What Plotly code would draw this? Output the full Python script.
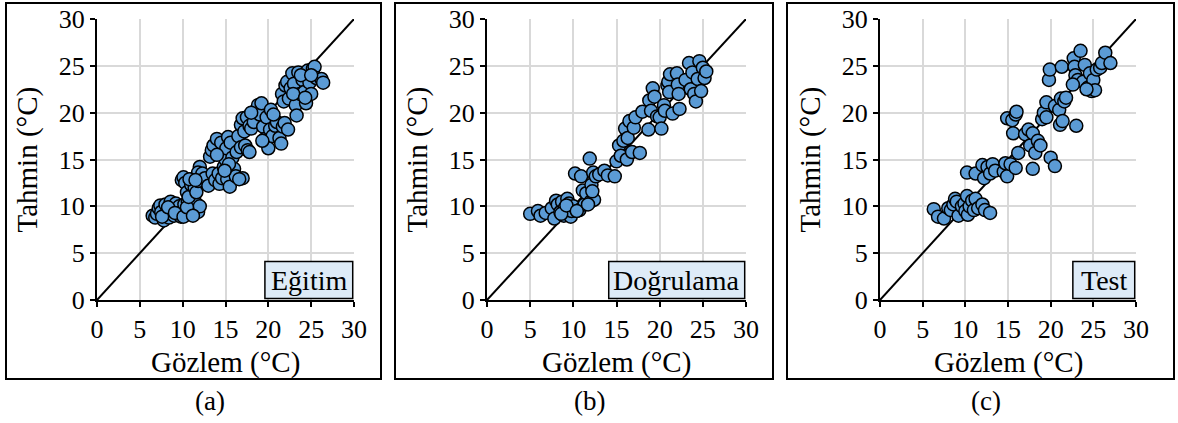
import plotly.graph_objects as go

W, H = 1178, 423

# ---------------- data ----------------
egitim_x = [6.5, 6.8, 7.0, 7.2, 7.4, 7.5, 7.8, 7.9, 8.0, 8.2, 8.4, 8.6, 8.8, 9.0, 9.2, 9.4, 9.6, 9.8,
            10.0, 10.2, 10.4, 10.6, 10.8, 11.0, 11.3, 11.5, 11.8, 12.0, 7.6, 8.3, 9.1, 10.1, 10.5, 11.2,
            9.9, 10.1, 10.3, 10.5, 10.7, 11.0, 11.2, 11.4, 11.6, 11.8, 12.0, 11.8, 12.3, 12.6, 10.8, 11.5,
            13.0, 13.2, 13.4, 13.6, 13.5, 13.8, 14.0, 14.2, 14.3, 14.5, 14.6, 14.8, 15.0, 15.1, 15.2, 15.3,
            15.5, 15.6, 15.8, 16.0, 16.2, 16.3, 16.5, 16.8, 17.0, 17.3, 17.6, 17.8, 15.4, 14.9, 14.0, 16.6,
            16.8, 17.0, 17.2, 17.5, 17.8, 18.0, 18.3, 18.5, 18.8, 19.0, 19.2, 19.4, 19.6, 19.8, 20.0, 20.2,
            20.3, 20.5, 20.8, 21.0, 21.3, 21.5, 21.7, 21.9, 22.3, 19.3, 18.0, 20.6,
            21.6, 21.8, 22.0, 22.2, 22.4, 22.6, 22.8, 23.0, 23.2, 23.3, 23.5, 23.7, 24.0, 24.2, 24.4, 24.6,
            24.8, 25.0, 25.2, 25.4, 25.6, 26.2, 26.4, 22.9, 23.8, 24.3, 25.0]
egitim_y = [9.0, 8.8, 9.2, 9.8, 10.1, 9.4, 8.5, 9.0, 10.2, 9.5, 8.8, 10.5, 9.6, 9.0, 10.3, 9.4, 10.0, 8.9,
            9.5, 10.2, 9.2, 10.5, 9.8, 10.1, 9.6, 10.4, 9.4, 10.0, 8.9, 9.9, 9.3, 8.9, 9.9, 9.0,
            12.8, 13.1, 12.5, 11.5, 11.0, 12.3, 12.9, 12.0, 11.5, 12.7, 14.2, 13.6, 13.5, 13.0, 12.9, 12.8,
            12.2, 15.3, 16.0, 16.5, 13.5, 12.8, 17.2, 13.5, 12.4, 16.8, 13.0, 14.2, 15.0, 16.2, 12.9, 17.4,
            12.1, 16.8, 15.2, 14.0, 13.2, 15.8, 17.5, 16.3, 13.0, 16.5, 16.0, 15.8, 14.5, 13.8, 15.5, 12.9,
            18.7, 19.4, 18.0, 19.5, 18.6, 18.3, 19.0, 20.2, 20.8, 19.8, 21.0, 18.5, 17.2, 19.5, 16.2, 18.2,
            20.3, 17.5, 18.6, 19.0, 17.3, 16.7, 18.5, 18.9, 18.2, 17.0, 20.0, 19.8,
            22.0, 21.2, 22.9, 23.3, 21.5, 22.6, 24.2, 23.1, 20.8, 19.7, 24.3, 22.0, 23.5, 22.2, 21.0, 24.5,
            23.2, 22.0, 24.7, 24.9, 23.7, 23.6, 23.2, 22.0, 24.0, 21.6, 24.0]

dogrulama_x = [5.0, 5.9, 6.2, 6.8, 7.5, 7.8, 8.0, 8.2, 8.5, 8.7, 8.9, 9.0, 9.3, 9.5, 9.7, 9.8, 10.0,
               10.2, 10.7, 10.9, 11.1, 11.3, 11.5, 11.9, 12.0, 12.1, 12.3, 12.4, 12.6, 13.0, 13.6, 14.0,
               14.8, 15.0, 15.3, 15.5, 15.8, 16.0, 16.2, 16.3, 16.5, 16.8, 17.0, 17.2, 17.7, 18.0, 18.7,
               18.8, 19.0, 19.2, 19.4, 19.7, 20.0, 20.2, 20.5, 20.6, 20.9, 21.0, 21.1, 21.2, 21.5, 22.0,
               22.1, 22.2, 22.3, 23.0, 23.4, 23.6, 23.8, 24.0, 24.2, 24.4, 24.6, 24.8, 25.0, 25.2, 25.4,
               8.6, 9.2, 10.4, 11.7, 12.2]
dogrulama_y = [9.2, 9.5, 9.0, 9.3, 9.8, 8.7, 10.6, 10.2, 9.4, 10.5, 9.0, 9.8, 10.8, 10.3, 8.9, 9.5, 10.0,
               13.5, 9.6, 13.2, 11.7, 10.2, 11.4, 15.1, 10.5, 12.3, 13.6, 10.7, 13.2, 13.4, 13.8, 13.3,
               13.2, 14.8, 16.5, 15.4, 17.0, 18.3, 15.0, 17.3, 19.1, 15.8, 18.4, 19.5, 15.7, 20.1, 18.2,
               21.3, 20.2, 22.6, 21.7, 19.6, 19.5, 18.3, 20.8, 20.2, 22.9, 23.3, 22.2, 24.1, 19.9, 24.2,
               23.0, 22.0, 20.4, 23.5, 25.3, 22.5, 24.3, 22.0, 21.2, 23.6, 25.5, 22.3, 24.8, 23.7, 24.4,
               9.2, 10.1, 9.5, 10.2, 11.6]

test_x = [6.3, 6.8, 7.5, 8.0, 8.3, 8.6, 8.8, 9.0, 9.2, 9.6, 9.9, 10.0, 10.2, 10.3, 10.5, 10.8, 11.0,
          11.2, 11.5, 12.0, 12.3, 12.9, 10.2, 11.2, 12.0, 12.2, 12.6, 12.9, 13.2, 13.5, 14.5, 14.7,
          14.9, 15.3, 15.9, 14.9, 15.5, 15.9, 15.6, 16.0, 16.2, 17.0, 17.4, 17.6, 17.9, 17.9, 18.2,
          18.5, 18.8, 19.0, 19.2, 19.5, 19.5, 19.8, 19.9, 20.0, 20.5, 20.5, 21.0, 21.1, 21.2, 21.3,
          21.4, 21.6, 21.8, 22.7, 22.8, 22.8, 22.9, 23.0, 23.2, 23.5, 23.8, 24.0, 24.4, 24.6, 24.8,
          25.0, 25.2, 25.4, 25.8, 26.0, 26.4, 27.0, 22.6, 24.2]
test_y = [9.7, 8.9, 8.7, 9.8, 9.6, 10.2, 10.8, 10.5, 9.0, 10.0, 10.3, 9.5, 11.1, 9.1, 10.0, 10.6, 9.6,
          10.8, 9.8, 10.2, 9.6, 9.3, 13.6, 13.5, 14.4, 13.0, 14.2, 13.5, 14.5, 13.8, 13.7, 14.6,
          13.2, 14.5, 14.1, 19.4, 19.2, 19.8, 17.8, 20.1, 15.7, 17.7, 18.2, 16.5, 14.0, 17.8, 15.7,
          17.0, 16.5, 19.3, 20.0, 21.1, 19.5, 23.5, 24.6, 15.2, 20.7, 14.3, 20.3, 18.7, 21.5, 24.9,
          19.1, 21.2, 21.6, 25.8, 24.9, 23.2, 24.0, 18.6, 23.5, 26.6, 23.3, 25.1, 22.7, 24.2, 22.3,
          23.5, 22.4, 24.6, 24.8, 25.3, 26.4, 25.3, 23.0, 22.5]

panels = [
    ("Eğitim", egitim_x, egitim_y, "(a)"),
    ("Doğrulama", dogrulama_x, dogrulama_y, "(b)"),
    ("Test", test_x, test_y, "(c)"),
]
tick_vals = [0, 5, 10, 15, 20, 25, 30]
tick_text = ["0", "5", "10", "15", "20", "25", "30"]

# ---------------- layout geometry (pixels) ----------------
plot_x = [(97, 354), (487, 746), (880, 1136)]
plot_y = (19, 300)
frames = [(6, 381), (395, 773), (787, 1174)]
frame_y = (3, 379)
caption_x = [210, 589, 986]
label_box_x0 = [19.6, 14.1, 22.6]
label_box_y1 = 4.1

FONT = "Liberation Serif, Times New Roman, serif"
fig = go.Figure()
shapes = []
annotations = []

for i, (name, xs, ys, cap) in enumerate(panels):
    n = "" if i == 0 else str(i + 1)
    xa, ya = "x" + n, "y" + n
    fig.add_trace(go.Scatter(x=[tick_vals[0], tick_vals[-1]], y=[tick_vals[0], tick_vals[-1]],
                             mode="lines", line=dict(color="black", width=2),
                             xaxis=xa, yaxis=ya, showlegend=False, hoverinfo="skip"))
    fig.add_trace(go.Scatter(x=xs, y=ys, mode="markers",
                             marker=dict(size=13, color="#5B9BD5",
                                         line=dict(color="black", width=1.5)),
                             xaxis=xa, yaxis=ya, showlegend=False))
    x0p, x1p = plot_x[i]
    axcommon = dict(range=[0, 30], tickvals=tick_vals, ticktext=tick_text,
                    showgrid=True, gridcolor="#d9d9d9", gridwidth=2,
                    zeroline=False, showline=True, linecolor="black", linewidth=2,
                    ticks="outside", ticklen=5, tickwidth=2, tickcolor="black",
                    automargin=False,
                    tickfont=dict(family=FONT, size=26, color="black"), fixedrange=True)
    fig.update_layout(**{
        "xaxis" + n: dict(domain=[x0p / W, x1p / W], anchor=ya, **axcommon),
        "yaxis" + n: dict(domain=[1 - plot_y[1] / H, 1 - plot_y[0] / H], anchor=xa, **axcommon),
    })
    fx0, fx1 = frames[i]
    shapes.append(dict(type="rect", xref="paper", yref="paper",
                       x0=fx0 / W, x1=fx1 / W, y0=1 - frame_y[1] / H, y1=1 - frame_y[0] / H,
                       line=dict(color="black", width=2), fillcolor="rgba(0,0,0,0)", layer="below"))
    shapes.append(dict(type="rect", xref=xa, yref=ya, x0=label_box_x0[i], x1=29.85,
                       y0=0.15, y1=label_box_y1, fillcolor="#DEEBF7",
                       line=dict(color="black", width=1.5), layer="above"))
    annotations.append(dict(xref=xa, yref=ya, x=(label_box_x0[i] + 29.85) / 2,
                            y=(0.15 + label_box_y1) / 2, text=name, showarrow=False,
                            xanchor="center", yanchor="middle",
                            font=dict(family=FONT, size=28, color="black")))
    cx = (x0p + x1p) / 2 / W
    annotations.append(dict(xref="paper", yref="paper", x=cx, y=1 - 362 / H,
                            text="Gözlem (°C)", showarrow=False,
                            xanchor="center", yanchor="middle",
                            font=dict(family=FONT, size=29, color="black")))
    annotations.append(dict(xref="paper", yref="paper", x=(x0p - 70) / W,
                            y=1 - (plot_y[0] + plot_y[1]) / 2 / H,
                            text="Tahmin (°C)", showarrow=False, textangle=-90,
                            xanchor="center", yanchor="middle",
                            font=dict(family=FONT, size=29, color="black")))
    annotations.append(dict(xref="paper", yref="paper", x=caption_x[i] / W, y=1 - 401 / H,
                            text=cap, showarrow=False,
                            xanchor="center", yanchor="middle",
                            font=dict(family=FONT, size=27, color="black")))

fig.update_layout(width=W, height=H, margin=dict(l=0, r=0, t=0, b=0, pad=0, autoexpand=False),
                  paper_bgcolor="white", plot_bgcolor="white", showlegend=False,
                  shapes=shapes, annotations=annotations)
fig.write_html("out.html", config={"displayModeBar": False},
               post_script="document.body.style.margin='0';document.body.style.overflow='hidden';")
